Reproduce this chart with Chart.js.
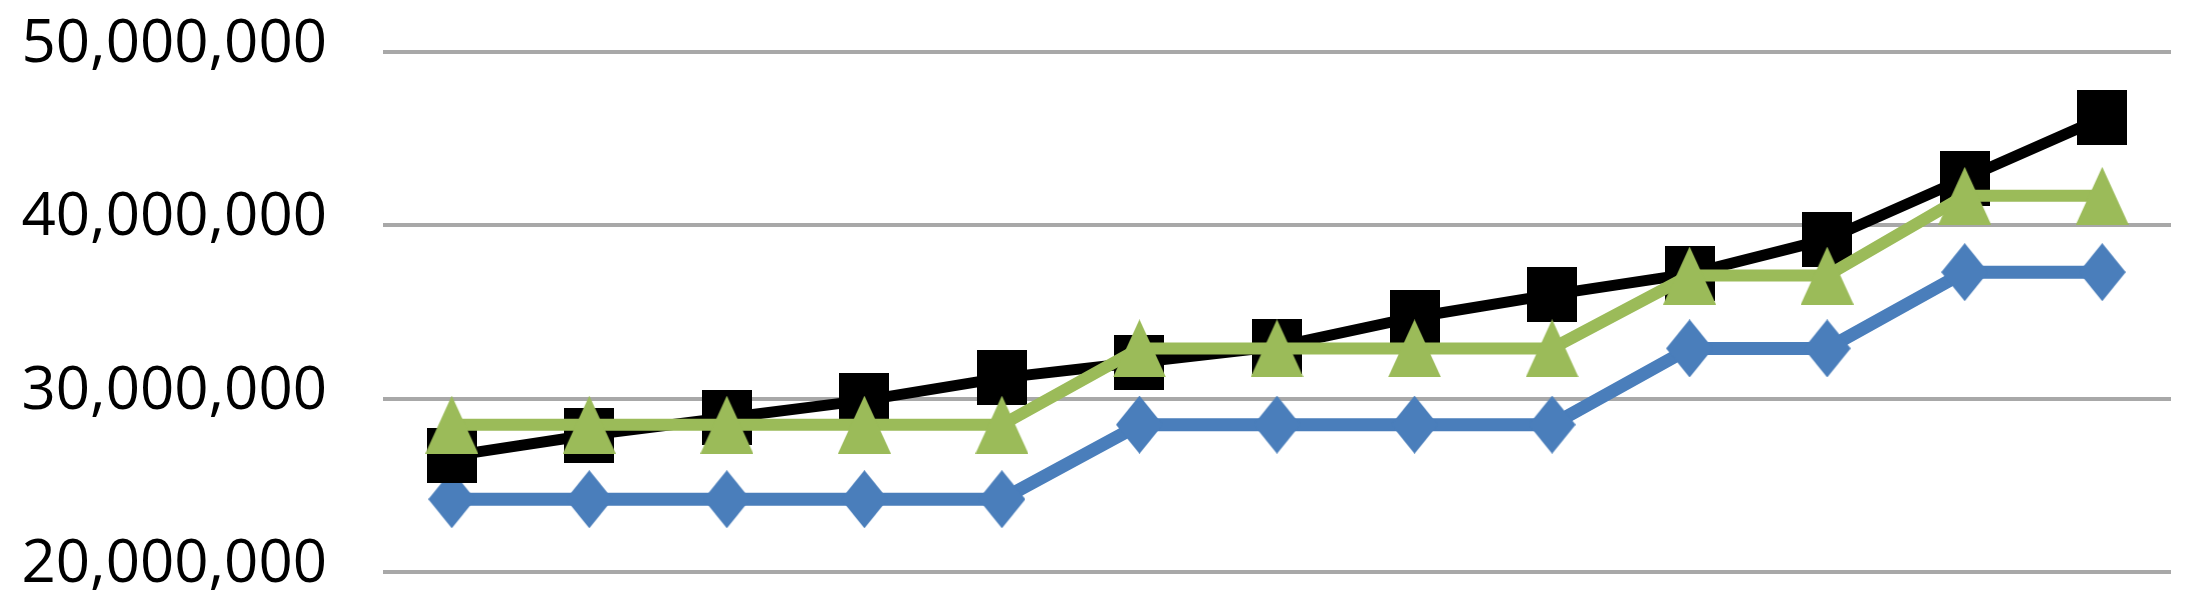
<!DOCTYPE html>
<html>
<head>
<meta charset="utf-8">
<script src="https://cdn.jsdelivr.net/npm/chart.js@4/dist/chart.umd.min.js"></script>
<style>
  html, body { margin: 0; padding: 0; background: #ffffff; }
  #wrap { width: 2199px; height: 615px; position: relative; }
</style>
</head>
<body>
<div id="wrap"><canvas id="c" width="2199" height="615"></canvas></div>
<script>
// ---- data ----
const categories = ['1','2','3','4','5','6','7','8','9','10','11','12','13'];
const seriesBlue  = [24200000, 24200000, 24200000, 24200000, 24200000, 28500000, 28500000, 28500000, 28500000, 32900000, 32900000, 37300000, 37300000];
const seriesGreen = [28500000, 28500000, 28500000, 28500000, 28500000, 32900000, 32900000, 32900000, 32900000, 37100000, 37100000, 41700000, 41700000];
const seriesBlack = [26700000, 27900000, 28900000, 29900000, 31200000, 32100000, 33000000, 34700000, 36000000, 37200000, 39200000, 42700000, 46200000];
const yTickValues = [20000000, 30000000, 40000000, 50000000];
const yTickLabels = ['20,000,000', '30,000,000', '40,000,000', '50,000,000'];

// ---- marker images ----
function marker(w, h, color, shape) {
  const c = document.createElement('canvas');
  c.width = w; c.height = h;
  const g = c.getContext('2d');
  g.fillStyle = color;
  g.beginPath();
  if (shape === 'square') {
    g.rect(0, 0, w, h);
  } else if (shape === 'diamond') {
    g.moveTo(w / 2, 0); g.lineTo(w, h / 2); g.lineTo(w / 2, h); g.lineTo(0, h / 2);
  } else if (shape === 'triangle') {
    g.moveTo(w / 2, 0); g.lineTo(w, h); g.lineTo(0, h);
  }
  g.closePath();
  g.fill();
  return c;
}
const blueColor = '#4A7EBB';
const greenColor = '#9BBB59';
const blackColor = '#000000';
const diamondImg = marker(47, 58, blueColor, 'diamond');
const triangleImg = marker(53, 58, greenColor, 'triangle');
const squareImg = marker(50, 55, blackColor, 'square');

function zeroPad(s) { s.paddingTop = 0; s.paddingBottom = 0; s.paddingLeft = 0; s.paddingRight = 0; }

new Chart(document.getElementById('c'), {
  type: 'line',
  data: {
    labels: categories,
    datasets: [
      { label: 'Series 1', data: seriesBlue, borderColor: blueColor, borderWidth: 13,
        pointStyle: diamondImg, pointRadius: 26, order: 2, tension: 0 },
      { label: 'Series 3', data: seriesBlack, borderColor: blackColor, borderWidth: 11,
        pointStyle: squareImg, pointRadius: 26, order: 1, tension: 0 },
      { label: 'Series 2', data: seriesGreen, borderColor: greenColor, borderWidth: 12,
        pointStyle: triangleImg, pointRadius: 26, order: 0, tension: 0 }
    ]
  },
  options: {
    responsive: false,
    animation: false,
    layout: { autoPadding: false, padding: { left: 0, right: 28, top: 52, bottom: 43 } },
    plugins: { legend: { display: false }, tooltip: { enabled: false } },
    scales: {
      x: { display: false, offset: true, afterFit: zeroPad },
      y: {
        min: 20000000, max: 50000000,
        afterBuildTicks: s => { s.ticks = yTickValues.map(v => ({ value: v })); },
        afterFit: s => { s.width = 383; zeroPad(s); },
        border: { display: false },
        grid: { color: '#a8a8a8', lineWidth: 4, drawTicks: false },
        ticks: {
          padding: 56,
          color: '#000000',
          font: { family: 'Open Sans', size: 60 },
          labelOffset: -7,
          callback: (v) => yTickLabels[yTickValues.indexOf(v)]
        }
      }
    }
  }
});
</script>
</body>
</html>
